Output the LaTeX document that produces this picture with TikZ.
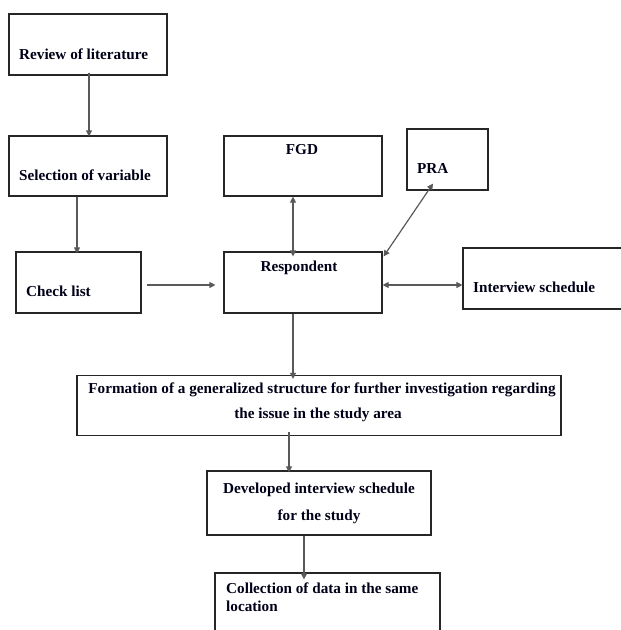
\documentclass[tikz,border=0pt]{standalone}
\usepackage{fontspec}
\setmainfont{Liberation Serif}
\usetikzlibrary{arrows.meta}
\begin{document}
\begin{tikzpicture}[x=1pt,y=-1pt,
  box/.style={draw=black!85,line width=1.2pt,rectangle,inner sep=0pt},
  lbl/.style={font=\bfseries\fontsize{15.2}{17}\selectfont,text=black!90!blue,inner sep=0pt},
  lw/.style={lbl,anchor=base west},
  lc/.style={lbl,anchor=base},
  conn/.style={draw=black!65,line width=1.2pt,-{Triangle[length=6pt,width=6pt]}},
  dconn/.style={draw=black!65,line width=1.2pt,{Triangle[length=6pt,width=6pt]}-{Triangle[length=6pt,width=6pt]}}]
\clip (0,0) rectangle (621,630);
\fill[white] (0,0) rectangle (621,630);
% boxes
\node[box,minimum width=158pt,minimum height=61pt] (rev) at (88,44.5) {};
\node[box,minimum width=158pt,minimum height=60pt] (sel) at (88,166) {};
\node[box,minimum width=125pt,minimum height=61pt] (chk) at (78.5,282.5) {};
\node[box,minimum width=158pt,minimum height=60pt] (fgd) at (303,166) {};
\node[box,minimum width=81pt,minimum height=61pt] (pra) at (447.5,159.5) {};
\node[box,minimum width=180pt,minimum height=61pt] (int) at (553,278.5) {};
\node[box,minimum width=158pt,minimum height=61pt] (resp) at (303,282.5) {};
\node[box,minimum width=484pt,minimum height=60pt] (form) at (319,405.5) {};
\node[box,minimum width=224pt,minimum height=64pt] (dev) at (319,503) {};
\node[box,minimum width=225pt,minimum height=80pt] (coll) at (327.5,613) {};
% texts
\node[lw] (trev) at (19,59) {Review of literature};
\node[lw] (tsel) at (19,180) {Selection of variable};
\node[lw] (tchk) at (26,296) {Check list};
\node[lc] (tfgd) at (302,154) {FGD};
\node[lw] (tpra) at (417,173) {PRA};
\node[lc] (tresp) at (299,271) {Respondent};
\node[lw] (tint) at (473,292) {Interview schedule};
\node[lc] (tform1) at (322,393) {Formation of a generalized structure for further investigation regarding};
\node[lc] (tform2) at (318,418) {the issue in the study area};
\node[lc] (tdev1) at (319,493) {Developed interview schedule};
\node[lc] (tdev2) at (319,520) {for the study};
\node[lw] (tcoll1) at (226,593) {Collection of data in the same};
\node[lw] (tcoll2) at (226,611) {location};
% connectors
\draw[conn] ([xshift=1pt,yshift=3pt]rev.south) -- ([xshift=1pt,yshift=-1pt]rev.south |- sel.north);
\draw[conn] ([xshift=-11pt]sel.south) -- ([xshift=-1.5pt,yshift=-2pt]chk.north);
\draw[conn] ([xshift=5pt,yshift=-2.5pt]chk.east) -- ([xshift=-8pt,yshift=-2.5pt]resp.west);
\draw[dconn] ([xshift=-10pt]fgd.south) -- ([xshift=-10pt,yshift=-5pt]resp.north);
\draw[dconn] ([xshift=-14.5pt,yshift=7pt]pra.south) -- ([xshift=1pt,yshift=-5pt]resp.north east);
\draw[dconn] ([yshift=-2.5pt]resp.east) -- ([yshift=-2.5pt]resp.east -| int.west);
\draw[conn] ([xshift=-10pt]resp.south) -- ([xshift=-10pt,yshift=-4pt]form.north -| resp.south);
\draw[conn] ([xshift=-30pt,yshift=4pt]form.south) -- ([xshift=-30pt,yshift=-2pt]form.south |- dev.north);
\draw[conn] ([xshift=-15pt]dev.south) -- ([xshift=-15pt,yshift=-7pt]dev.south |- coll.north);
\end{tikzpicture}
\end{document}
